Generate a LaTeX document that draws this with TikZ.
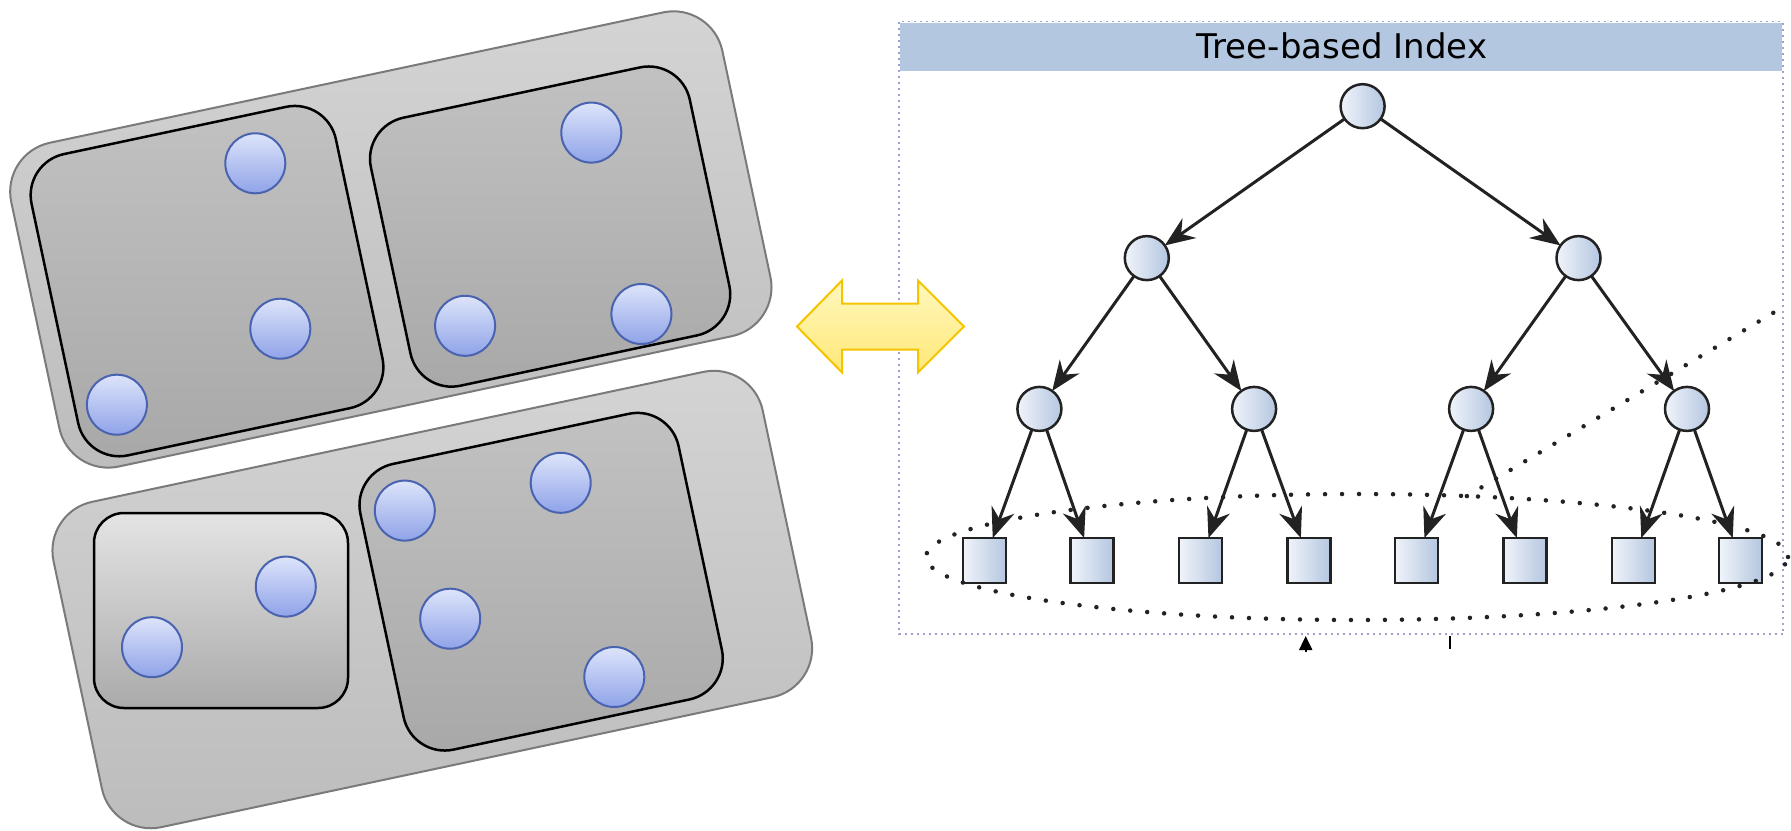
\documentclass[tikz,border=0pt]{standalone}
\usepackage{fontspec}
\usepackage{tikz}
\usepackage{tkz-berge}
\usetikzlibrary{arrows.meta,shapes.geometric}
\newfontfamily\titlefont{DejaVu Sans}

\definecolor{boxline}{RGB}{122,122,122}
\definecolor{outertop}{RGB}{212,212,212}
\definecolor{outerbot}{RGB}{188,188,188}
\definecolor{innertop}{RGB}{194,194,194}
\definecolor{innerbot}{RGB}{168,168,168}
\definecolor{plaintop}{RGB}{228,228,228}
\definecolor{plainbot}{RGB}{170,170,170}
\definecolor{itemline}{RGB}{74,99,176}
\definecolor{itemtop}{RGB}{221,228,250}
\definecolor{itembot}{RGB}{143,163,232}
\definecolor{nodeline}{RGB}{34,34,34}
\definecolor{nodeleft}{RGB}{240,244,250}
\definecolor{noderight}{RGB}{180,198,224}
\definecolor{bandfill}{RGB}{180,199,224}
\definecolor{framedot}{RGB}{158,160,208}
\definecolor{arrowline}{RGB}{245,196,0}
\definecolor{arrowtop}{RGB}{255,248,190}
\definecolor{arrowbot}{RGB}{255,232,120}

\tikzset{
  outerbox/.style={draw=boxline, line width=2pt, top color=outertop,
    bottom color=outerbot, rounded corners=50pt},
  innerbox/.style={draw=black, line width=2.5pt, top color=innertop,
    bottom color=innerbot, rounded corners=42pt},
  plainbox/.style={draw=black, line width=2.5pt, top color=plaintop,
    bottom color=plainbot, rounded corners=30pt},
  item/.style={draw=itemline, line width=2pt, top color=itemtop,
    bottom color=itembot},
  linkarrow/.style={draw=arrowline, line width=2pt, top color=arrowtop,
    bottom color=arrowbot, line join=miter},
  ring/.style={ellipse, draw=nodeline, line width=4.5pt,
    dash pattern=on 0pt off 17pt, line cap=round, inner sep=0pt, outer sep=0pt},
  dotline/.style={draw=nodeline, line width=4.5pt,
    dash pattern=on 0pt off 17pt, line cap=round}
}

\begin{document}
\begin{tikzpicture}[x=1pt,y=-1pt]
\useasboundingbox (0,0) rectangle (1791,830);

\begin{scope}[rotate=12]
\draw[outerbox] (-31,150) rectangle (696,481);
\draw[innerbox] (-11.5,164) rectangle (299.6,472);
\draw[innerbox] (328,199) rectangle (654,473);
\draw[outerbox] (-64.3,510) rectangle (660.7,842.6);
\draw[innerbox] (245.7,535.5) rectangle (571,827.5);
\end{scope}
\draw[plainbox] (94,513) rectangle (348,708);

\foreach \x/\y in {255.3/163.3, 280.3/328.7, 116.9/404.7,
                   591.3/132.6, 465.1/325.8, 641.4/314,
                   285.8/586.6, 152/647.2,
                   404.8/510.6, 560.7/482.8, 450.2/618.7, 614.3/677}
  \draw[item] (\x,\y) circle[radius=30pt];

\draw[framedot, line width=1.5pt, dash pattern=on 2pt off 4pt] (899,21.5) rectangle (1783,634);
\fill[bandfill] (900,22.5) rectangle (1782,70.5);
\node[anchor=base, font=\titlefont\fontsize{34}{40}\selectfont] (title) at (1342,58) {Tree-based Index};

\draw[linkarrow] (797,326.5) -- (842,280.5) -- (842,303.5) -- (918,303.5) -- (918,280.5)
  -- (964,326.5) -- (918,372.5) -- (918,349.5) -- (842,349.5) -- (842,372.5) -- cycle;

\SetVertexNoLabel
\tikzset{VertexStyle/.style={circle, draw=nodeline, line width=2.5pt, left color=nodeleft,
  right color=noderight, minimum size=44pt, inner sep=0pt}}

\Vertex[x=1362.6pt,y=-106.2pt]{R}
\Vertex[x=1146.8pt,y=-258.1pt]{A}
\Vertex[x=1578.5pt,y=-258.1pt]{B}
\Vertex[x=1039.4pt,y=-408.9pt]{A1}
\Vertex[x=1254.1pt,y=-408.9pt]{A2}
\Vertex[x=1471.1pt,y=-408.9pt]{B1}
\Vertex[x=1687.0pt,y=-408.9pt]{B2}

\tikzset{VertexStyle/.style={rectangle, draw=nodeline, line width=2.5pt, left color=nodeleft,
  right color=noderight, minimum width=43pt, minimum height=45pt, inner sep=0pt}}

\Vertex[x=984.6pt,y=-560.5pt]{L1}
\Vertex[x=1091.9pt,y=-560.5pt]{L2}
\Vertex[x=1200.5pt,y=-560.5pt]{L3}
\Vertex[x=1309.0pt,y=-560.5pt]{L4}
\Vertex[x=1416.3pt,y=-560.5pt]{L5}
\Vertex[x=1524.8pt,y=-560.5pt]{L6}
\Vertex[x=1633.3pt,y=-560.5pt]{L7}
\Vertex[x=1740.7pt,y=-560.5pt]{L8}

\tikzset{EdgeStyle/.style={-{Stealth[length=30pt,width=24pt,inset=10pt]},
  line width=3pt, draw=nodeline}}

\Edge(R)(A)
\Edge(R)(B)

\Edge(A)(A1)
\Edge(A)(A2)
\Edge(B)(B1)
\Edge(B)(B2)

\Edge(A1)(L1)
\Edge(A1)(L2)
\Edge(A2)(L3)
\Edge(A2)(L4)
\Edge(B1)(L5)
\Edge(B1)(L6)
\Edge(B2)(L7)
\Edge(B2)(L8)

\node[ring, minimum width=862pt, minimum height=126pt] (leafset) at (1357,557) {};
\coordinate (spread) at (1783,307);
\draw[dotline] (leafset.29.5) -- (spread);

\coordinate (up0) at (1305.7,652);
\coordinate (up1) at (1305.7,636);
\draw[-{Stealth[length=14pt,width=13pt,inset=0pt]}, line width=2pt] (up0) -- (up1);
\coordinate (tick0) at (1450,636);
\coordinate (tick1) at (1450,649);
\draw[line width=2pt] (tick0) -- (tick1);

\end{tikzpicture}
\end{document}
